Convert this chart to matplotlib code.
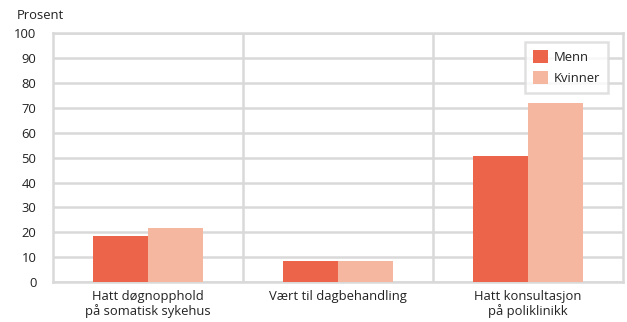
import numpy as np
import matplotlib.pyplot as plt

categories = ["Hatt døgnopphold\npå somatisk sykehus", "Vært til dagbehandling", "Hatt konsultasjon\npå poliklinikk"]
menn = [18.5, 8.5, 50.8]
kvinner = [21.7, 8.5, 72.0]
series_names = ["Menn", "Kvinner"]
yticks = [0, 10, 20, 30, 40, 50, 60, 70, 80, 90, 100]

plt.rcParams['font.family'] = ['Open Sans', 'DejaVu Sans']
grid_col = '#d9d9d9'
text_col = '#222222'
fs = 9.4

fig = plt.figure(figsize=(6.27, 3.22), dpi=100)
ax = fig.add_axes([0.0845, 0.124, 0.909, 0.773])

x = np.arange(len(categories))
w = 0.29
ax.bar(x - w / 2, menn, w, color='#ec6449', label=series_names[0], zorder=3)
ax.bar(x + w / 2, kvinner, w, color='#f5b7a0', label=series_names[1], zorder=3)

ax.set_xlim(-0.5, len(categories) - 0.5)
ax.set_ylim(0, 100)
ax.set_yticks(yticks)
ax.set_xticks(x)
ax.set_xticklabels(categories, fontsize=fs, color=text_col, linespacing=1.15)
ax.tick_params(axis='y', labelsize=fs, colors=text_col, length=0, pad=12)
ax.tick_params(axis='x', length=0, pad=5.5)
for lab in ax.get_yticklabels():
    lab.set_color(text_col)

for yv in yticks:
    ax.axhline(yv, color=grid_col, lw=1.8, zorder=1)
for xv in x[:-1] + 0.5:
    ax.axvline(xv, color=grid_col, lw=1.8, zorder=1)
for s in ax.spines.values():
    s.set_color(grid_col)
    s.set_linewidth(1.8)

fig.text(0.027, 0.952, "Prosent", fontsize=fs, color=text_col, ha='left', va='center')

leg = ax.legend(loc='upper right', bbox_to_anchor=(0.986, 0.99), fontsize=fs,
                frameon=True, fancybox=False, edgecolor=grid_col, handlelength=1.1,
                handleheight=1.2, handletextpad=0.5, borderpad=0.6, labelspacing=0.5)
leg.get_frame().set_linewidth(1.8)
for t in leg.get_texts():
    t.set_color(text_col)

fig.savefig('out.png', dpi=100)
